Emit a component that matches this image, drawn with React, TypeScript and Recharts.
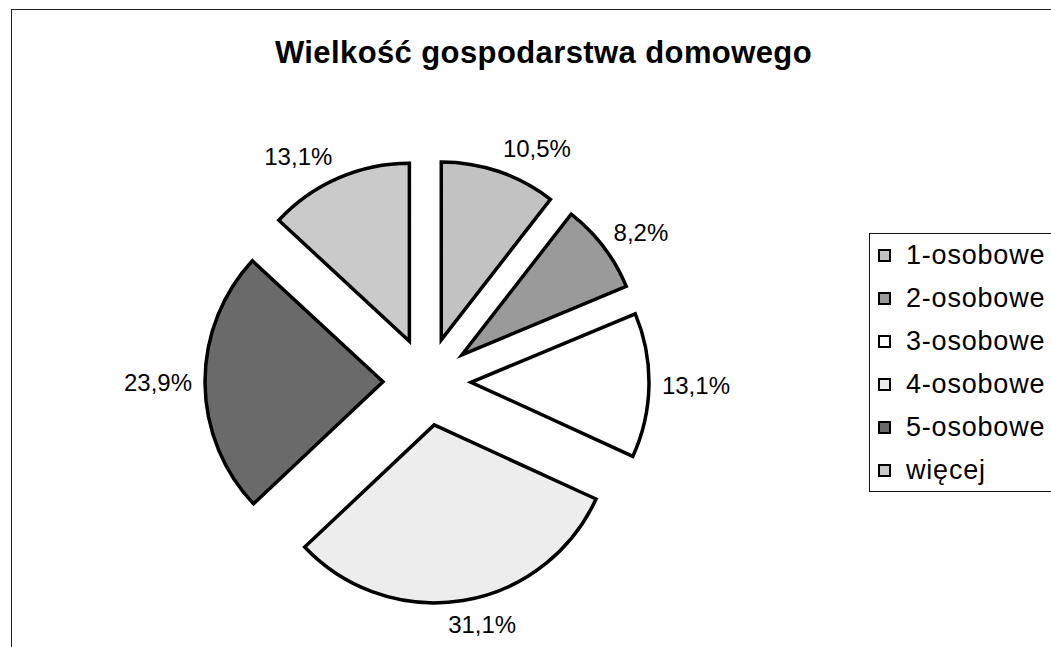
import { PieChart, Pie, Cell } from "recharts";

// Exploded pie: "Wielkość gospodarstwa domowego" (household size shares).
// Each slice is its own <Pie> sharing the same data, with only one cell
// visible, shifted outward along that slice's mid angle.

const categories = ["1-osobowe", "2-osobowe", "3-osobowe", "4-osobowe", "5-osobowe", "więcej"];
const shares = [10.5, 8.2, 13.1, 31.1, 23.9, 13.1];
const sliceFills = ["#c2c2c2", "#9a9a9a", "#ffffff", "#ededed", "#6a6a6a", "#cacaca"];

const W = 1051;
const H = 647;
const CX = 427;
const CY = 381.5;
const R = 178;
const EXPLODE = 44;
const FONT = '"Liberation Sans", Arial, sans-serif';
const RAD = Math.PI / 180;

const data = categories.map((name, i) => ({ name, value: shares[i] }));
const total = shares.reduce((a, b) => a + b, 0);

const fmt = (v: number) => v.toFixed(1).replace(".", ",") + "%";

// mid angle measured clockwise from 12 o'clock, in radians
function midFromTop(i: number) {
  const before = shares.slice(0, i).reduce((a, b) => a + b, 0);
  return ((before + shares[i] / 2) / total) * 2 * Math.PI;
}

function explodedCenter(i: number) {
  const m = midFromTop(i);
  return { x: CX + EXPLODE * Math.sin(m), y: CY - EXPLODE * Math.cos(m) };
}

const makeLabel = (i: number) => (props: any) => {
  if (props.index !== i) return null;
  const m = (props.midAngle ?? 90 - (midFromTop(i) / RAD)) * RAD;
  const cx = Number(props.cx);
  const cy = Number(props.cy);
  const r = Number(props.outerRadius ?? R) + 12;
  const px = cx + r * Math.cos(m);
  const py = cy - r * Math.sin(m);
  const text = fmt(shares[i]);
  const halfW = text.length * 7;
  const k = Math.max(-1, Math.min(1, 3 * Math.cos(m)));
  return (
    <text
      key={`lbl-${i}`}
      x={px + halfW * k}
      y={py - 12 * Math.sin(m)}
      textAnchor="middle"
      dominantBaseline="central"
      fontFamily={FONT}
      fontSize={24}
      fill="#000"
    >
      {text}
    </text>
  );
};

export default function App() {
  return (
    <div
      style={{
        position: "absolute",
        left: 0,
        top: 0,
        width: W,
        height: H,
        overflow: "hidden",
        background: "#fff",
        fontFamily: FONT,
      }}
    >
      {/* chart area frame */}
      <div
        style={{
          position: "absolute",
          left: 11,
          top: 9,
          width: W + 40,
          height: H + 40,
          border: "1.5px solid #222",
        }}
      />
      <div
        style={{
          position: "absolute",
          left: 0,
          top: 37,
          width: 1087,
          textAlign: "center",
          fontSize: 31,
          lineHeight: "31px",
          fontWeight: "bold",
          letterSpacing: 0.4,
          color: "#000",
        }}
      >
        Wielkość gospodarstwa domowego
      </div>
      <div style={{ position: "absolute", left: 0, top: 0 }}>
        <PieChart width={W} height={H} margin={{ top: 0, right: 0, bottom: 0, left: 0 }}>
          {categories.map((_, i) => {
            const c = explodedCenter(i);
            return (
              <Pie
                key={`pie-${i}`}
                data={data}
                dataKey="value"
                nameKey="name"
                cx={c.x}
                cy={c.y}
                innerRadius={0}
                outerRadius={R}
                startAngle={90}
                endAngle={-270}
                isAnimationActive={false}
                labelLine={false}
                label={makeLabel(i)}
              >
                {data.map((_, j) => (
                  <Cell
                    key={`c-${i}-${j}`}
                    fill={j === i ? sliceFills[j] : "none"}
                    stroke={j === i ? "#000" : "none"}
                    strokeWidth={j === i ? 3.5 : 0}
                    strokeLinejoin="miter"
                  />
                ))}
              </Pie>
            );
          })}
        </PieChart>
      </div>
      {/* legend */}
      <div
        style={{
          position: "absolute",
          left: 869,
          top: 233,
          width: 240,
          height: 259,
          border: "1.5px solid #111",
          boxSizing: "border-box",
        }}
      >
        {categories.map((name, i) => (
          <div
            key={name}
            style={{
              height: 43,
              display: "flex",
              alignItems: "center",
              paddingLeft: 8,
            }}
          >
            <span
              style={{
                display: "inline-block",
                width: 9,
                height: 9,
                border: "2px solid #000",
                background: sliceFills[i],
                marginRight: 15,
                flex: "none",
              }}
            />
            <span style={{ fontSize: 27, letterSpacing: 0.8, color: "#000", whiteSpace: "nowrap" }}>{name}</span>
          </div>
        ))}
      </div>
    </div>
  );
}
